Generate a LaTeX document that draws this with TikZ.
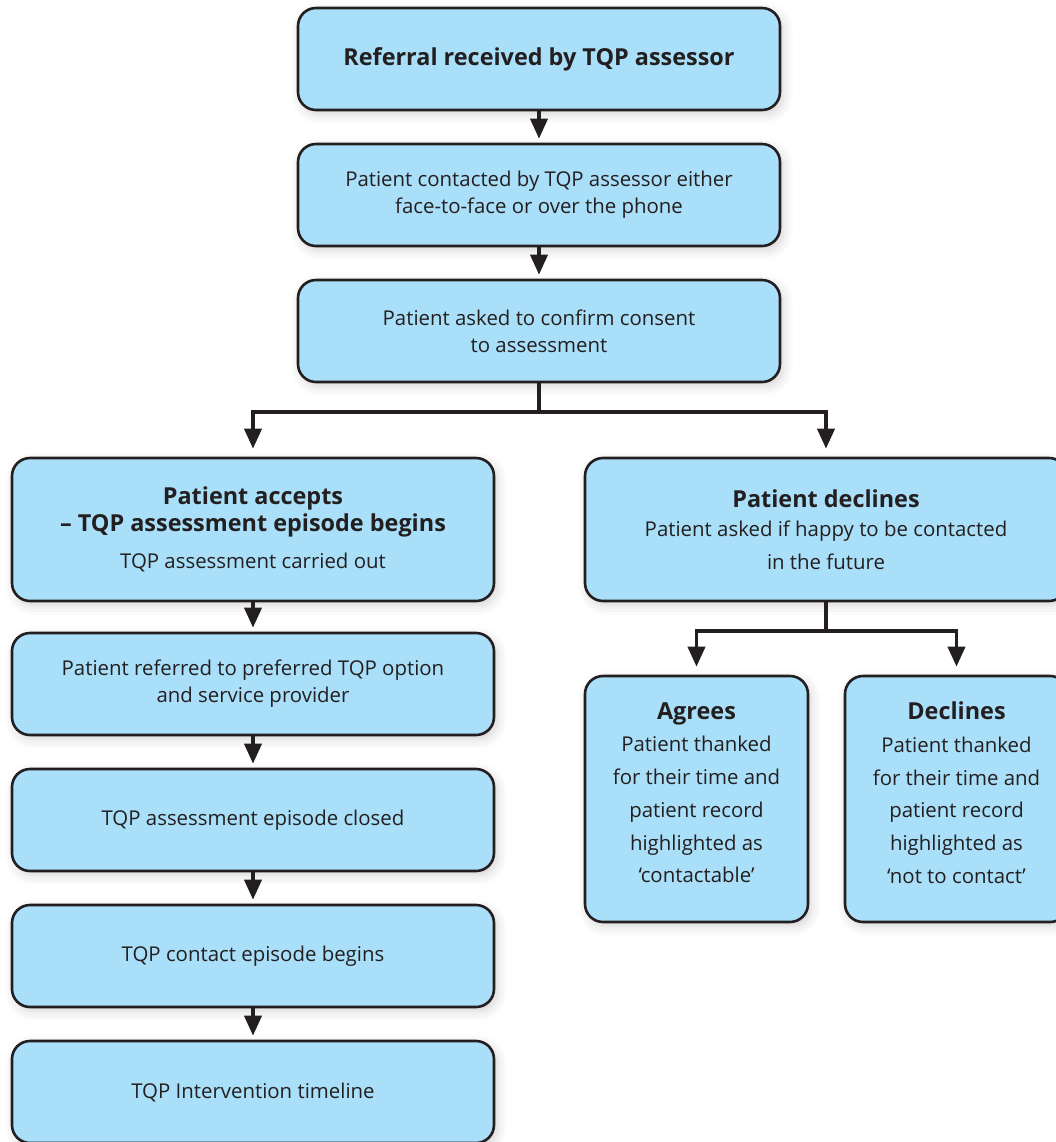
\documentclass[tikz,border=0pt]{standalone}
\usepackage{fontspec}
\setmainfont{Open Sans}
\usetikzlibrary{arrows.meta,positioning,shadows.blur}

\definecolor{boxblue}{HTML}{A9DFF8}
\definecolor{inkgray}{HTML}{231F20}
\newcommand{\boxfont}{\fontsize{10.2}{13.5}\selectfont}
\newcommand{\loosefont}{\fontsize{10.2}{16.4}\selectfont}
\newcommand{\headfont}{\fontsize{11.7}{13.5}\selectfont\bfseries}

\tikzset{
  stepbox/.style={draw=inkgray, line width=1.3pt, rounded corners=9pt, fill=boxblue,
    text=inkgray, align=center, font=\boxfont, inner sep=0pt,
    minimum width=241pt, minimum height=51pt,
    blur shadow={shadow xshift=1.5pt, shadow yshift=-2pt, shadow blur radius=5pt, shadow opacity=18}},
  tallbox/.style={stepbox, minimum height=71.5pt},
  narrowbox/.style={stepbox, font=\loosefont, minimum width=111.5pt, minimum height=123pt},
  flow/.style={->, line width=1.9pt, draw=inkgray, shorten >=2pt},
  branch/.style={flow, shorten >=4pt},
}

\begin{document}
\begin{tikzpicture}[>={Triangle[width=8.5pt,length=10pt]}, x=0.5pt, y=-0.5pt]
  \useasboundingbox (0,0) rectangle (1056,1142);
  \clip (0,0) rectangle (1056,1142);
  % Trunk
  \node[stepbox, font=\headfont] (ref) at (539,59) {Referral received by TQP assessor};
  \node[stepbox] (contact) at (539,195) {Patient contacted by TQP assessor either\\face-to-face or over the phone};
  \node[stepbox] (consent) at (539,331) {Patient asked to confirm consent\\to assessment};
  % Accept branch
  \node[tallbox] (accepts) at (253,529.5) {{\headfont Patient accepts}\\{\headfont – TQP assessment episode begins}\\[5pt]TQP assessment carried out};
  \node[stepbox] (referred) at (253,684) {Patient referred to preferred TQP option\\and service provider};
  \node[stepbox] (closed) at (253,820) {TQP assessment episode closed};
  \node[stepbox] (contactep) at (253,956) {TQP contact episode begins};
  \node[stepbox] (timeline) at (253,1092) {TQP Intervention timeline};
  % Decline branch
  \node[tallbox, font=\loosefont] (declines) at (826,529.5) {{\headfont Patient declines}\\[-1.5pt]Patient asked if happy to be contacted\\in the future};
  \node[narrowbox] (agrees) at (696.5,799) {{\headfont Agrees}\\Patient thanked\\for their time and\\patient record\\highlighted as\\‘contactable’\\[-10pt]\mbox{}};
  \node[narrowbox] (refuses) at (956.5,799) {{\headfont Declines}\\Patient thanked\\for their time and\\patient record\\highlighted as\\‘not to contact’\\[-10pt]\mbox{}};
  % Arrows
  \draw[flow] (ref) -- (contact);
  \draw[flow] (contact) -- (consent);
  \draw[branch] (consent.south) -- ++(0,29) -| (accepts.north);
  \draw[branch] (consent.south) -- ++(0,29) -| (declines.north);
  \draw[flow] (accepts) -- (referred);
  \draw[flow] (referred) -- (closed);
  \draw[flow] (closed) -- (contactep);
  \draw[flow] (contactep) -- (timeline);
  \draw[branch] (declines.south) -- ++(0,29) -| (agrees.north);
  \draw[branch] (declines.south) -- ++(0,29) -| (refuses.north);
\end{tikzpicture}
\end{document}
